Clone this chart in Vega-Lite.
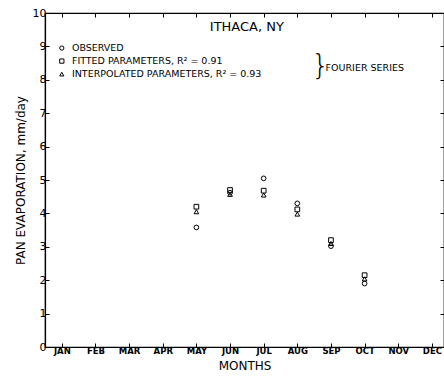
{
  "$schema": "https://vega.github.io/schema/vega-lite/v6.json",
  "autosize": "none",
  "width": 399,
  "height": 334,
  "padding": {"left": 45, "top": 13, "right": 0, "bottom": 32},
  "background": "white",
  "config": {
    "view": {"stroke": "black", "strokeWidth": 1.2},
    "font": "DejaVu Sans",
    "axis": {"domainColor": "black", "tickColor": "black", "labelColor": "black", "titleColor": "black", "grid": false, "domainWidth": 1.2}
  },
  "datasets": {
    "points": [
      {"month": 5, "value": 3.58, "series": "OBSERVED"},
      {"month": 6, "value": 4.62, "series": "OBSERVED"},
      {"month": 7, "value": 5.05, "series": "OBSERVED"},
      {"month": 8, "value": 4.3, "series": "OBSERVED"},
      {"month": 9, "value": 3.02, "series": "OBSERVED"},
      {"month": 10, "value": 1.9, "series": "OBSERVED"},
      {"month": 5, "value": 4.2, "series": "FITTED"},
      {"month": 6, "value": 4.7, "series": "FITTED"},
      {"month": 7, "value": 4.68, "series": "FITTED"},
      {"month": 8, "value": 4.12, "series": "FITTED"},
      {"month": 9, "value": 3.2, "series": "FITTED"},
      {"month": 10, "value": 2.15, "series": "FITTED"},
      {"month": 5, "value": 4.05, "series": "INTERPOLATED"},
      {"month": 6, "value": 4.57, "series": "INTERPOLATED"},
      {"month": 7, "value": 4.55, "series": "INTERPOLATED"},
      {"month": 8, "value": 3.98, "series": "INTERPOLATED"},
      {"month": 9, "value": 3.1, "series": "INTERPOLATED"},
      {"month": 10, "value": 2.04, "series": "INTERPOLATED"}
    ],
    "legendSymbols": [
      {"month": 1.0, "value": 8.95, "series": "OBSERVED"},
      {"month": 1.0, "value": 8.56, "series": "FITTED"},
      {"month": 1.0, "value": 8.17, "series": "INTERPOLATED"}
    ],
    "legendText": [
      {"month": 1.3, "value": 8.95, "label": "OBSERVED"},
      {"month": 1.3, "value": 8.56, "label": "FITTED PARAMETERS, R² = 0.91"},
      {"month": 1.3, "value": 8.17, "label": "INTERPOLATED PARAMETERS, R² = 0.93"},
      {"month": 8.84, "value": 8.36, "label": "FOURIER SERIES"}
    ],
    "brace": [
      {"month": 8.42, "value": 8.38, "label": "}"}
    ],
    "title": [
      {"month": 6.5, "value": 9.58, "label": "ITHACA, NY"}
    ]
  },
  "layer": [
    {
      "data": {"name": "points"},
      "mark": {"type": "point", "filled": false, "stroke": "black", "strokeWidth": 1, "size": 22, "opacity": 1},
      "encoding": {
        "x": {
          "field": "month", "type": "quantitative",
          "scale": {"domain": [0.5, 12.36], "nice": false, "zero": false},
          "axis": {
            "orient": "bottom", "values": [1,2,3,4,5,6,7,8,9,10,11,12],
            "labelExpr": "['JAN','FEB','MAR','APR','MAY','JUN','JUL','AUG','SEP','OCT','NOV','DEC'][datum.value-1]",
            "tickSize": -4, "labelPadding": 3, "labelFontSize": 8.5, "labelFontWeight": "bold",
            "title": "MONTHS", "titleFontSize": 12, "titleFontWeight": "normal", "titlePadding": 6
          }
        },
        "y": {
          "field": "value", "type": "quantitative",
          "scale": {"domain": [0, 10], "nice": false},
          "axis": {
            "orient": "left", "values": [0,1,2,3,4,5,6,7,8,9,10],
            "tickSize": -4, "labelPadding": 3, "labelFontSize": 11,
            "title": "PAN EVAPORATION,  mm/day", "titleFontSize": 12, "titleFontWeight": "normal", "titlePadding": 5
          }
        },
        "shape": {
          "field": "series", "type": "nominal",
          "scale": {"domain": ["OBSERVED", "FITTED", "INTERPOLATED"], "range": ["circle", "square", "triangle-up"]},
          "legend": null
        }
      }
    },
    {
      "data": {"name": "legendSymbols"},
      "mark": {"type": "point", "filled": false, "stroke": "black", "strokeWidth": 1, "size": 18, "opacity": 1},
      "encoding": {
        "x": {"field": "month", "type": "quantitative",
          "axis": {"orient": "top", "values": [1,2,3,4,5,6,7,8,9,10,11,12], "labels": false, "tickSize": -4, "title": null}},
        "y": {"field": "value", "type": "quantitative",
          "axis": {"orient": "right", "values": [0,1,2,3,4,5,6,7,8,9,10], "labels": false, "tickSize": -4, "title": null}},
        "shape": {"field": "series", "type": "nominal", "legend": null}
      }
    },
    {
      "data": {"name": "legendText"},
      "mark": {"type": "text", "align": "left", "baseline": "middle", "fontSize": 9.5, "color": "black"},
      "encoding": {
        "x": {"field": "month", "type": "quantitative", "axis": null},
        "y": {"field": "value", "type": "quantitative", "axis": null},
        "text": {"field": "label"}
      }
    },
    {
      "data": {"name": "brace"},
      "mark": {"type": "text", "align": "left", "baseline": "middle", "fontSize": 28, "fontWeight": "lighter", "color": "black"},
      "encoding": {
        "x": {"field": "month", "type": "quantitative", "axis": null},
        "y": {"field": "value", "type": "quantitative", "axis": null},
        "text": {"field": "label"}
      }
    },
    {
      "data": {"name": "title"},
      "mark": {"type": "text", "align": "center", "baseline": "middle", "fontSize": 13, "color": "black"},
      "encoding": {
        "x": {"field": "month", "type": "quantitative", "axis": null},
        "y": {"field": "value", "type": "quantitative", "axis": null},
        "text": {"field": "label"}
      }
    }
  ],
  "resolve": {"axis": {"x": "independent", "y": "independent"}}
}
